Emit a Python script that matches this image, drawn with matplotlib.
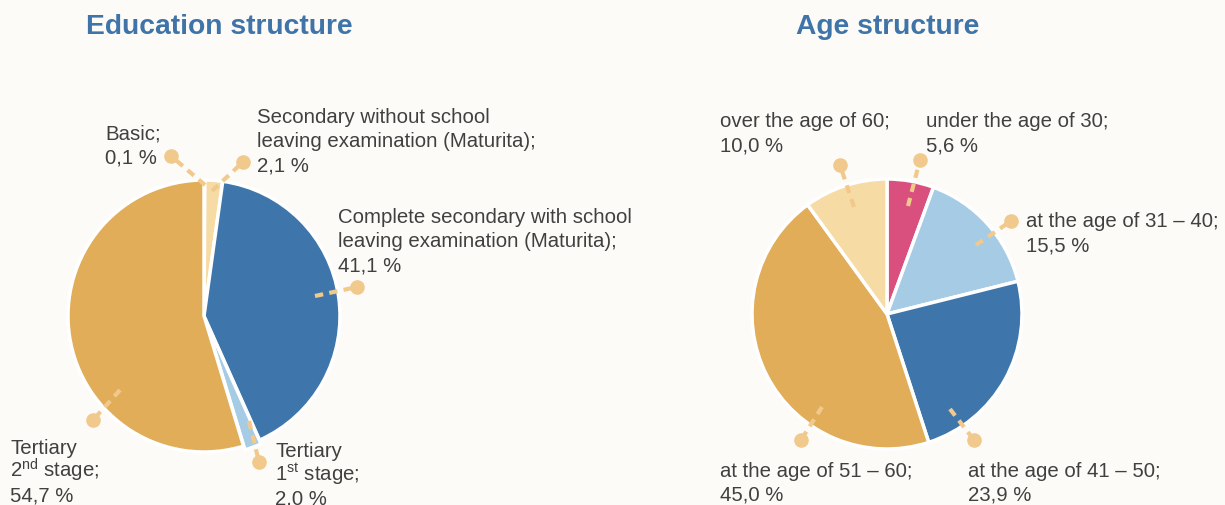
import matplotlib
matplotlib.use("Agg")
import matplotlib.pyplot as plt
import numpy as np

plt.rcParams['font.family'] = ['Liberation Sans', 'DejaVu Sans']
plt.rcParams['mathtext.fontset'] = 'custom'
plt.rcParams['mathtext.rm'] = 'Liberation Sans'

# data
edu_labels = ['Basic;\n0,1 %',
              'Secondary without school\nleaving examination (Maturita);\n2,1 %',
              'Complete secondary with school\nleaving examination (Maturita);\n41,1 %',
              'Tertiary\n1$^{\\mathrm{st}}$ stage;\n2.0 %',
              'Tertiary\n2$^{\\mathrm{nd}}$ stage;\n54,7 %']
edu_values = [0.1, 2.1, 41.1, 2.0, 54.7]
edu_colors = ['#D9507F', '#F7DBA5', '#3E76AC', '#A5CBE5', '#E2AD58']

age_labels = ['under the age of 30;\n5,6 %',
              'at the age of 31 – 40;\n15,5 %',
              'at the age of 41 – 50;\n23,9 %',
              'at the age of 51 – 60;\n45,0 %',
              'over the age of 60;\n10,0 %']
age_values = [5.6, 15.5, 23.9, 45.0, 10.0]
age_colors = ['#D9507F', '#A5CBE5', '#3E76AC', '#E2AD58', '#F7DBA5']

W, H = 1225, 506
BG = '#FCFBF8'
TXT = '#404040'
LEAD = '#F2C98C'
LINE_H = 24  # px between label lines

# layout (pixel coords, y down): first-line centre of label, leader start, leader end
edu_text_xy = [(105, 133), (257, 117), (338, 217), (275, 451), (10, 448)]
edu_lead = [((205, 186), (171, 157)), ((212, 192), (243, 163)), ((315, 297), (357, 288)),
            ((249, 422), (259, 463)), ((120, 391), (93, 421))]
age_text_xy = [(926, 121), (1026, 221), (968, 471), (720, 471), (720, 121)]
age_lead = [((908, 207), (920, 161)), ((976, 246), (1011, 222)), ((950, 410), (974, 441)),
            ((822, 408), (801, 441)), ((854, 208), (840, 166))]

fig = plt.figure(figsize=(W / 100, H / 100), dpi=100, facecolor=BG)
ax = fig.add_axes([0, 0, 1, 1])
ax.set_facecolor(BG)


def draw_pie(values, colors, center, radius, explode, texts, text_xy, leads):
    ax.pie(values, colors=colors, startangle=90, counterclock=False,
           center=(center[0], H - center[1]), radius=radius, explode=explode,
           wedgeprops=dict(edgecolor='white', linewidth=2.5))
    for (p0, p1) in leads:
        ax.plot([p0[0], p1[0]], [H - p0[1], H - p1[1]], color=LEAD, lw=3,
                dashes=(2.0, 1.5), solid_capstyle='butt', zorder=5)
        ax.plot(p1[0], H - p1[1], 'o', color=LEAD, ms=9.5, zorder=6)
    # each label line drawn on its own so superscripts don't move the lines
    for t, (x, y) in zip(texts, text_xy):
        for i, line in enumerate(t.split('\n')):
            ax.text(x, H - (y + i * LINE_H + 6), line, ha='left', va='baseline',
                    fontsize=14.7, color=TXT)


draw_pie(edu_values, edu_colors, (204, 317), 136, [0, 0, 0, 4, 0],
         edu_labels, edu_text_xy, edu_lead)
draw_pie(age_values, age_colors, (887, 315), 135, None,
         age_labels, age_text_xy, age_lead)

ax.text(219, H - 27, 'Education structure', ha='center', va='center',
        fontsize=20.3, fontweight='bold', color='#3F74A9')
ax.text(888, H - 27, 'Age structure', ha='center', va='center',
        fontsize=20.3, fontweight='bold', color='#3F74A9')

ax.set_xlim(0, W)
ax.set_ylim(0, H)
ax.set_aspect('equal')
ax.axis('off')

fig.savefig('out.png', dpi=100, facecolor=BG)
